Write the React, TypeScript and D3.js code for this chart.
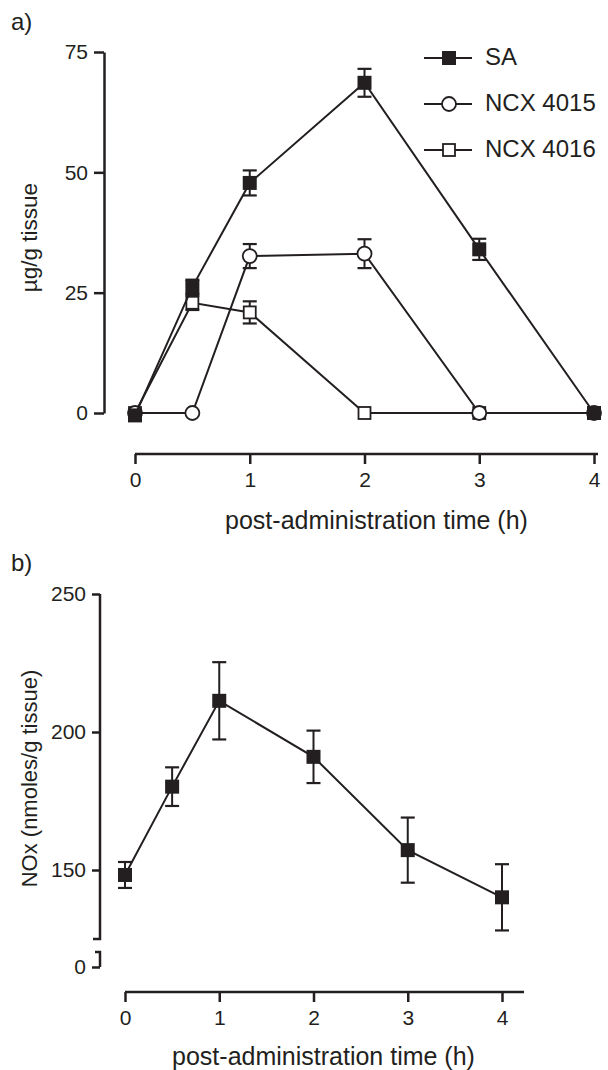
import React, { useEffect, useRef } from 'react';
import * as d3 from 'd3';

// panel a: tissue levels
const timesA = [0, 0.5, 1, 2, 3, 4];
const saMean = [-0.5, 26.2, 47.8, 68.6, 34.0, 0];
const saErr = [0, 1.5, 2.6, 2.9, 2.2, 0];
const ncx4015Mean = [0, 0, 32.6, 33.1, 0, 0];
const ncx4015Err = [0, 0, 2.5, 3.0, 0, 0];
const ncx4016Mean = [0, 22.9, 20.9, 0, 0, 0];
const ncx4016Err = [0, 1.5, 2.3, 0, 0, 0];
const legendLabels = ['SA', 'NCX 4015', 'NCX 4016'];
const yTicksA = [0, 25, 50, 75];
const xTicks = [0, 1, 2, 3, 4];

// panel b: NOx
const timesB = [0, 0.5, 1, 2, 3, 4];
const noxMean = [148.2, 180.2, 211.3, 191.0, 157.2, 140.1];
const noxErr = [4.7, 7.0, 14.0, 9.5, 11.8, 12.0];
const yTicksB = [150, 200, 250];

const FONT = 'Liberation Sans, Arial, sans-serif';
const INK = '#231f20';

const App = () => {
    const ref = useRef<SVGSVGElement>(null);

    useEffect(() => {
        const svg = d3.select(ref.current);
        svg.selectAll('*').remove();

        const styleAxis = (g: any, lw: number) => {
            g.select('.domain').attr('stroke', INK).attr('stroke-width', lw);
            g.selectAll('.tick line').attr('stroke', INK).attr('stroke-width', lw);
            g.selectAll('.tick text')
                .attr('fill', INK)
                .style('font-family', FONT)
                .style('font-size', '21px');
        };

        const drawMarker = (g: any, shape: string, x: number, y: number) => {
            if (shape === 'circle') {
                g.append('circle').attr('cx', x).attr('cy', y).attr('r', 7)
                    .attr('fill', '#fff').attr('stroke', INK).attr('stroke-width', 1.8);
            } else {
                const s = shape === 'filled' ? 14 : 12;
                g.append('rect').attr('x', x - s / 2).attr('y', y - s / 2)
                    .attr('width', s).attr('height', s)
                    .attr('fill', shape === 'filled' ? INK : '#fff')
                    .attr('stroke', INK).attr('stroke-width', shape === 'filled' ? 0 : 1.8);
            }
        };

        const drawSeries = (g: any, xs: number[], means: number[], errs: number[],
            x: any, y: any, shape: string) => {
            const pts = xs.map((t, i) => [t, means[i], errs[i]]);
            g.append('path')
                .datum(pts)
                .attr('fill', 'none')
                .attr('stroke', INK)
                .attr('stroke-width', 2)
                .attr('d', d3.line<number[]>().x(d => x(d[0])).y(d => y(d[1])));
            pts.forEach(d => {
                if (d[2] > 0) {
                    const cx = x(d[0]);
                    const y1 = y(d[1] + d[2]);
                    const y2 = y(d[1] - d[2]);
                    g.append('line').attr('x1', cx).attr('x2', cx).attr('y1', y1).attr('y2', y2)
                        .attr('stroke', INK).attr('stroke-width', 2);
                    [y1, y2].forEach(yy => {
                        g.append('line').attr('x1', cx - 7).attr('x2', cx + 7).attr('y1', yy).attr('y2', yy)
                            .attr('stroke', INK).attr('stroke-width', 2.2);
                    });
                }
            });
            pts.forEach(d => drawMarker(g, shape, x(d[0]), y(d[1])));
        };

        const fmt = d3.format('d');

        // ---------- panel a ----------
        const xA = d3.scaleLinear().domain([0, 4]).range([135, 594]);
        const yA = d3.scaleLinear().domain([0, 75]).range([413, 52]);

        svg.append('text').attr('x', 11).attr('y', 30).text('a)')
            .style('font-family', FONT).style('font-size', '24px').attr('fill', INK);

        const gyA = svg.append('g').attr('transform', 'translate(104,0)')
            .call(d3.axisLeft(yA).tickValues(yTicksA).tickFormat(fmt).tickSize(10).tickSizeOuter(0).tickPadding(6));
        styleAxis(gyA, 2.5);

        const gxA = svg.append('g').attr('transform', 'translate(0,454)')
            .call(d3.axisBottom(xA).tickValues(xTicks).tickFormat(fmt).tickSize(10).tickSizeOuter(0).tickPadding(8));
        styleAxis(gxA, 2.5);
        gxA.select('.domain').attr('d', `M${xA(0)},0H${xA.range()[1] + 4}`);

        svg.append('text')
            .attr('transform', `translate(31,${(yA(0) + yA(75)) / 2 + 5}) rotate(-90)`)
            .attr('text-anchor', 'middle')
            .attr('dominant-baseline', 'middle')
            .style('font-family', FONT).style('font-size', '22.5px').attr('fill', INK)
            .text('µg/g tissue');

        svg.append('text')
            .attr('x', (xA(0) + xA(4)) / 2 + 12).attr('y', 529)
            .attr('text-anchor', 'middle')
            .style('font-family', FONT).style('font-size', '25px').attr('fill', INK)
            .text('post-administration time (h)');

        const plotA = svg.append('g');
        drawSeries(plotA, timesA, ncx4016Mean, ncx4016Err, xA, yA, 'open');
        drawSeries(plotA, timesA, ncx4015Mean, ncx4015Err, xA, yA, 'circle');
        drawSeries(plotA, timesA, saMean, saErr, xA, yA, 'filled');

        // legend
        const shapes = ['filled', 'circle', 'open'];
        const legendY = d3.scalePoint().domain(legendLabels).range([58, 150]);
        legendLabels.forEach((lab, i) => {
            const ly = legendY(lab) as number;
            const lg = svg.append('g');
            lg.append('line').attr('x1', 424).attr('x2', 472).attr('y1', ly).attr('y2', ly)
                .attr('stroke', INK).attr('stroke-width', 2);
            drawMarker(lg, shapes[i], 449, ly);
            lg.append('text').attr('x', 485).attr('y', ly + 1)
                .attr('dominant-baseline', 'middle')
                .style('font-family', FONT).style('font-size', '24px').attr('fill', INK)
                .text(lab);
        });

        // ---------- panel b ----------
        const xB = d3.scaleLinear().domain([0, 4]).range([125, 502]);
        const yB = d3.scaleLinear().domain([125, 250]).range([939, 594]);
        const yBreak = d3.scaleLinear().domain([0, 5.4]).range([967, 952]);

        svg.append('text').attr('x', 11).attr('y', 571).text('b)')
            .style('font-family', FONT).style('font-size', '24px').attr('fill', INK);

        const gyB = svg.append('g').attr('transform', 'translate(100,0)')
            .call(d3.axisLeft(yB).tickValues(yTicksB).tickFormat(fmt).tickSize(8).tickSizeOuter(0).tickPadding(6));
        styleAxis(gyB, 2.5);
        gyB.select('.domain').attr('d', `M0,${yB(250)}V${yB(125)}H-7`);

        const gyB0 = svg.append('g').attr('transform', 'translate(100,0)')
            .call(d3.axisLeft(yBreak).tickValues([0]).tickFormat(fmt).tickSize(8).tickSizeOuter(0).tickPadding(6));
        styleAxis(gyB0, 2.5);
        gyB0.select('.domain').attr('d', `M-5,${yBreak(5.4)}H0V${yBreak(0)}`);

        const gxB = svg.append('g').attr('transform', 'translate(0,992)')
            .call(d3.axisBottom(xB).tickValues(xTicks).tickFormat(fmt).tickSize(10).tickSizeOuter(0).tickPadding(8));
        styleAxis(gxB, 2.5);
        gxB.select('.domain').attr('d', `M${xB(0)},0H${xB(4) + 22}`);

        svg.append('text')
            .attr('transform', `translate(31,${(yB(125) + yB(250)) / 2 + 12}) rotate(-90)`)
            .attr('text-anchor', 'middle')
            .attr('dominant-baseline', 'middle')
            .style('font-family', FONT).style('font-size', '22px').attr('fill', INK)
            .text('NOx (nmoles/g tissue)');

        svg.append('text')
            .attr('x', (xB(0) + xB(4)) / 2 + 10).attr('y', 1065)
            .attr('text-anchor', 'middle')
            .style('font-family', FONT).style('font-size', '25px').attr('fill', INK)
            .text('post-administration time (h)');

        const plotB = svg.append('g');
        drawSeries(plotB, timesB, noxMean, noxErr, xB, yB, 'filled');
    }, []);

    return (
        <svg ref={ref} width={608} height={1070}
            style={{ position: 'absolute', left: 0, top: 0, background: '#fff' }} />
    );
};

export default App;
